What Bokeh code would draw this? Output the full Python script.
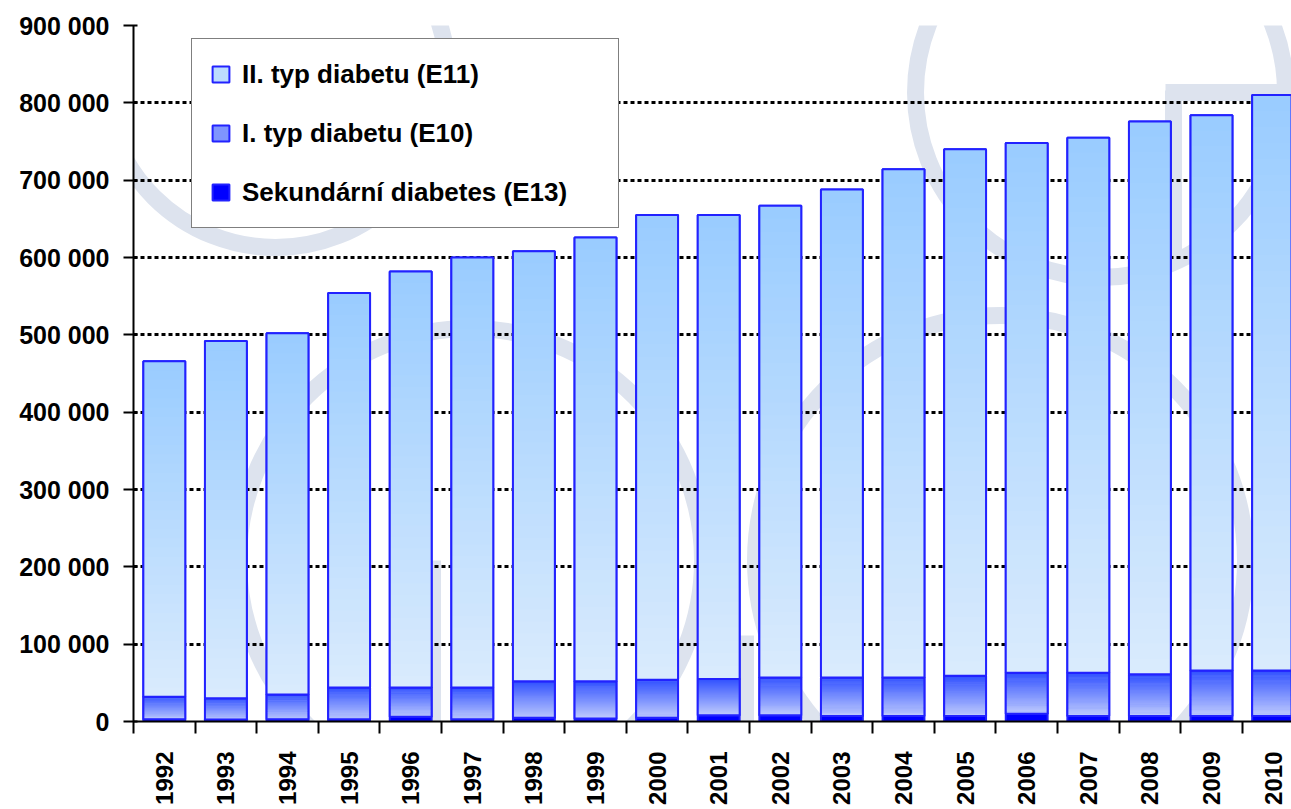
import numpy as np
from bokeh.plotting import figure
from bokeh.models import ColumnDataSource, Range1d, FixedTicker, Legend, LegendItem
from bokeh.embed import file_html
from bokeh.resources import INLINE

# ---------------- data ----------------
years = list(range(1992, 2011))
e13 = [3000, 2500, 3000, 3000, 6000, 3000, 5000, 4000, 5000, 8000,
       8000, 7000, 7000, 7000, 10000, 7000, 7000, 7000, 7000]
e10 = [29000, 27500, 32000, 41000, 38000, 41000, 47000, 48000, 49000, 47000,
       49000, 50000, 50000, 52000, 53000, 56000, 54000, 59000, 59000]
e11 = [434000, 462000, 467000, 510000, 538000, 556000, 556000, 574000, 601000, 600000,
       610000, 631000, 657000, 681000, 685000, 692000, 715000, 718000, 744000]
series_labels = ["II. typ diabetu (E11)", "I. typ diabetu (E10)", "Sekundární diabetes (E13)"]
y_ticks = [0, 100000, 200000, 300000, 400000, 500000, 600000, 700000, 800000, 900000]
y_tick_labels = ["0", "100 000", "200 000", "300 000", "400 000", "500 000",
                 "600 000", "700 000", "800 000", "900 000"]

# ---------------- style ----------------
FONT = "Liberation Sans"
OUTLINE = "#2222FF"
WM = "#DDE3EE"
BAR_W = 0.68
PX_PER_YEAR = 61.6
LEFT, TOP = 133, 25
FRAME_H = 696
W, H = 1291, 809
FRAME_W = W - LEFT

x0 = years[0] - 0.5
x1 = x0 + FRAME_W / PX_PER_YEAR

p = figure(width=W, height=H, output_backend="svg", toolbar_location=None,
           x_range=Range1d(x0, x1), y_range=Range1d(y_ticks[0], y_ticks[-1]),
           min_border_left=LEFT, min_border_right=0, min_border_top=TOP,
           min_border_bottom=H - TOP - FRAME_H)
p.outline_line_color = None
p.background_fill_color = "white"
p.border_fill_color = "white"

# ---- watermark (decorative, placed by screen position) ----
def sx(px):
    return x0 + (px - LEFT) / PX_PER_YEAR

def sy(py):
    return (TOP + FRAME_H - py) / FRAME_H * y_ticks[-1]

wm_rings = [(275, 75, 172), (1100, 92, 185), (1000, 560, 245), (470, 560, 232)]
p.circle(x=[sx(a) for a, b, r in wm_rings], y=[sy(b) for a, b, r in wm_rings],
         radius=[r for a, b, r in wm_rings], radius_units="screen",
         fill_color=None, line_color=WM, line_width=17, level="image")
wm_vlines = [(432, 560, 820), (745, 635, 820), (1013, 720, 820), (1173, 90, 260)]
p.segment(x0=[sx(a) for a, b, c in wm_vlines], y0=[sy(b) for a, b, c in wm_vlines],
          x1=[sx(a) for a, b, c in wm_vlines], y1=[sy(c) for a, b, c in wm_vlines],
          line_color=WM, line_width=17, level="image")
p.segment(x0=[sx(1165)], y0=[sy(92)], x1=[sx(1310)], y1=[sy(92)],
          line_color=WM, line_width=17, level="image")

# ---- stacked bars with vertical gradients ----
def hex2rgb(h):
    h = h.lstrip("#")
    return np.array([int(h[i:i + 2], 16) for i in (0, 2, 4)], dtype=float)

def rgb2hex(c):
    return "#%02x%02x%02x" % tuple(int(round(v)) for v in c)

N = 36
yrs = np.array(years, dtype=float)
v13 = np.array(e13, dtype=float)
v10 = np.array(e10, dtype=float)
v11 = np.array(e11, dtype=float)

def gradient_source(base, height, c_bot, c_top):
    cb, ct = hex2rgb(c_bot), hex2rgb(c_top)
    xs, bots, tops, cols = [], [], [], []
    for i in range(N):
        t = (i + 0.5) / N
        col = rgb2hex(cb + (ct - cb) * t)
        xs.append(yrs)
        bots.append(base + height * i / N)
        tops.append(base + height * (i + 1) / N + height / N * 0.3)
        cols.append([col] * len(yrs))
    return ColumnDataSource(dict(x=np.concatenate(xs), bottom=np.concatenate(bots),
                                 top=np.minimum(np.concatenate(tops), np.tile(base + height, N)),
                                 color=sum(cols, [])))

src = ColumnDataSource(dict(x=years, b13=[0] * len(years), t13=e13,
                            b10=list(v13), t10=list(v13 + v10),
                            b11=list(v13 + v10), t11=list(v13 + v10 + v11)))

# E13 (solid)
r13 = p.vbar(x="x", bottom="b13", top="t13", width=BAR_W, source=src,
             fill_color="#0000FF", line_color=OUTLINE, line_width=2)

# E10
r10 = p.vbar(x="x", bottom="b10", top="t10", width=BAR_W, source=src,
             fill_color="#7F95FE", line_color=OUTLINE, line_width=2)
g10 = gradient_source(v13, v10, "#C0CCFD", "#3050FF")
p.vbar(x="x", bottom="bottom", top="top", width=BAR_W, source=g10,
       fill_color="color", line_color=None)
p.vbar(x="x", bottom="b10", top="t10", width=BAR_W, source=src,
       fill_color=None, line_color=OUTLINE, line_width=2)

# E11
r11 = p.vbar(x="x", bottom="b11", top="t11", width=BAR_W, source=src,
             fill_color="#BCDCFE", line_color=OUTLINE, line_width=2)
g11 = gradient_source(v13 + v10, v11, "#DAEBFD", "#99CCFF")
p.vbar(x="x", bottom="bottom", top="top", width=BAR_W, source=g11,
       fill_color="color", line_color=None)
p.vbar(x="x", bottom="b11", top="t11", width=BAR_W, source=src,
       fill_color=None, line_color=OUTLINE, line_width=2)

# ---- axes ----
p.xaxis.ticker = FixedTicker(ticks=years, minor_ticks=[y - 0.5 for y in years] + [years[-1] + 0.5])
p.xaxis.major_label_overrides = {y: str(y) for y in years}
p.xaxis.major_label_orientation = np.pi / 2
p.xaxis.major_tick_out = 0
p.xaxis.major_tick_in = 0
p.xaxis.minor_tick_out = 12
p.xaxis.minor_tick_in = 0
p.xaxis.minor_tick_line_color = "black"
p.xaxis.minor_tick_line_width = 2
p.xaxis.major_label_standoff = 18
p.xaxis.major_label_text_font_size = "24px"

p.yaxis.ticker = FixedTicker(ticks=y_ticks)
p.yaxis.major_label_overrides = {t: l for t, l in zip(y_ticks, y_tick_labels)}
p.yaxis.major_tick_out = 10
p.yaxis.major_tick_in = 4
p.yaxis.major_tick_line_width = 2
p.yaxis.minor_tick_line_color = None
p.yaxis.major_label_standoff = 14
p.yaxis.major_label_text_font_size = "25px"

for ax in (p.xaxis, p.yaxis):
    ax.axis_line_color = "black"
    ax.axis_line_width = 2
    ax.major_tick_line_color = "black"
    ax.major_label_text_font = FONT
    ax.major_label_text_font_style = "bold"
    ax.major_label_text_color = "black"

p.xgrid.visible = False
p.ygrid.ticker = FixedTicker(ticks=y_ticks)
p.ygrid.grid_line_color = "black"
p.ygrid.grid_line_width = 3
p.ygrid.grid_line_dash = "4 3"

# ---- legend ----
legend = Legend(items=[LegendItem(label=series_labels[0], renderers=[r11]),
                       LegendItem(label=series_labels[1], renderers=[r10]),
                       LegendItem(label=series_labels[2], renderers=[r13])],
                location=(58, 493), orientation="vertical",
                border_line_color="black", border_line_width=1.5,
                background_fill_color="white", background_fill_alpha=1.0,
                glyph_width=21, glyph_height=20, label_standoff=11,
                label_width=358, label_height=34, padding=18, spacing=25,
                label_text_font=FONT, label_text_font_style="bold",
                label_text_font_size="26px", label_text_color="black",
                margin=0)
p.add_layout(legend)

open("out.html", "w").write(file_html(p, INLINE))
